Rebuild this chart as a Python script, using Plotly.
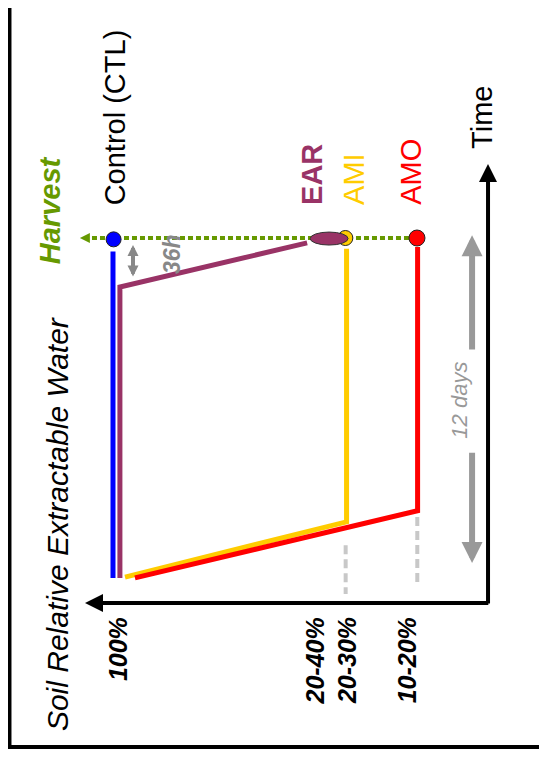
import plotly.graph_objects as go

# ---------------- data (time in days, SREW axis in schematic units: 0 = 100 %, 100 = AMO level) -------------
srew_tick_pos = [0.7, 66.1, 76.6, 96.8]
srew_tick_labels = ["100%", "20-40%", "20-30%", "10-20%"]

harvest_day = 12.0
harvest_x = [100.0, -10.0]

ctl_x = [-1.0, -1.0]
ctl_t = [-0.55, 11.5]
ctl_dot_x, ctl_dot_t = [-0.8], [11.95]

ear_x = [1.3, 1.3, 63.5]
ear_t = [-0.55, 10.19, 11.82]
ear_end_x, ear_end_t = 70.8, 11.98

ami_x = [3.0, 76.6, 76.6]
ami_t = [-0.52, 1.52, 11.6]
ami_dot_x, ami_dot_t = [76.2], [12.0]

amo_x = [6.3, 100.2, 100.2]
amo_t = [-0.55, 1.93, 11.67]
amo_dot_x, amo_dot_t = [100.0], [12.0]

ref_dash_x = [76.3, 100.1]
ref_dash_t0 = [0.66, 1.70]
ref_dash_t1 = [-1.14, -0.89]

series_names = ["Control (CTL)", "<b>EAR</b>", "AMI", "AMO"]
series_label_x = [-0.5, 65.3, 79.1, 98.0]
label_base_t = 13.15

h36_x, h36_t = 5.65, [10.52, 11.74]
d12_x, d12_t = 118.3, [0.0, 4.13, 7.83, 12.1]

axis_corner_x, axis_corner_t = 123.6, -1.48
srew_axis_tip_x = -10.3
time_axis_tip_t = 14.73

BLUE = "#0000ff"
PURPLE = "#993366"
YELLOW = "#ffcc00"
RED = "#ff0000"
GREEN = "#669900"
GRAY = "#999999"
FONT = "Liberation Sans, Arial, sans-serif"

fig = go.Figure()

# reference dashed lines
for x, t0, t1 in zip(ref_dash_x, ref_dash_t0, ref_dash_t1):
    fig.add_trace(go.Scatter(x=[x, x], y=[t0, t1], mode="lines",
                             line=dict(color="#c8c8c8", width=4, dash="9px,5px"),
                             hoverinfo="skip"))

# harvest dotted line
fig.add_trace(go.Scatter(x=harvest_x, y=[harvest_day, harvest_day], mode="lines",
                         line=dict(color=GREEN, width=4, dash="5px,3px"), hoverinfo="skip"))

# series lines
fig.add_trace(go.Scatter(x=ctl_x, y=ctl_t, mode="lines", line=dict(color=BLUE, width=5)))
fig.add_trace(go.Scatter(x=ear_x, y=ear_t, mode="lines", line=dict(color=PURPLE, width=5)))
fig.add_trace(go.Scatter(x=ami_x, y=ami_t, mode="lines", line=dict(color=YELLOW, width=5)))
fig.add_trace(go.Scatter(x=amo_x, y=amo_t, mode="lines", line=dict(color=RED, width=5)))

# harvest markers
for mx, mt, col, sz in [(ctl_dot_x, ctl_dot_t, BLUE, 15), (ami_dot_x, ami_dot_t, YELLOW, 15),
                        (amo_dot_x, amo_dot_t, RED, 16)]:
    fig.add_trace(go.Scatter(x=mx, y=mt, mode="markers",
                             marker=dict(color=col, size=sz, line=dict(color="#222222", width=1))))

# EAR elongated marker
fig.add_shape(type="circle", xref="x", yref="y",
              x0=ear_end_x - 6.3, x1=ear_end_x + 6.3,
              y0=ear_end_t - 0.24, y1=ear_end_t + 0.24,
              fillcolor=PURPLE, line=dict(color="#333333", width=1))

# frame (page body adds an 8 px offset)
fig.add_shape(type="rect", xref="paper", yref="paper", x0=0.0027, y0=0.0276, x1=1.05, y1=1.05,
              line=dict(color="black", width=4), fillcolor="rgba(0,0,0,0)")

def arrow(x_tip, t_tip, x_tail, t_tail, color, width, size=1.0, head=2, side="end"):
    fig.add_annotation(x=x_tip, y=t_tip, ax=x_tail, ay=t_tail, xref="x", yref="y",
                       axref="x", ayref="y", showarrow=True, text="",
                       arrowhead=head, arrowsize=size, arrowwidth=width,
                       arrowcolor=color, arrowside=side, standoff=0, startstandoff=0)

# axes arrows
arrow(srew_axis_tip_x, axis_corner_t, axis_corner_x + 0.6, axis_corner_t, "black", 4, 0.9)
arrow(axis_corner_x, time_axis_tip_t, axis_corner_x, axis_corner_t - 0.07, "black", 4, 0.9)
# harvest arrow head
arrow(-12.0, harvest_day, -9.0, harvest_day, GREEN, 2, 1.0, head=2)
# 36h double arrow
arrow(h36_x, h36_t[1], h36_x, h36_t[0], "#888888", 4, 0.55, side="end+start")
# 12 days arrows
arrow(d12_x, d12_t[3], d12_x, d12_t[2], GRAY, 6, 0.7)
arrow(d12_x, d12_t[0], d12_x, d12_t[1], GRAY, 6, 0.7)

# texts
def vtext(x, t, txt, color, size, yanchor="bottom", xanchor="center"):
    fig.add_annotation(x=x, y=t, xref="x", yref="y", text=txt, showarrow=False,
                       textangle=-90, xanchor=xanchor, yanchor=yanchor,
                       font=dict(family=FONT, size=size, color=color))

label_colors = ["black", PURPLE, YELLOW, RED]
for name, lx, col in zip(series_names, series_label_x, label_colors):
    vtext(lx, label_base_t, name, col, 29)

vtext(-21.9, 13.03, "<b><i>Harvest</i></b>", GREEN, 29, yanchor="middle")
vtext(121.8, 15.22, "Time", "black", 29)
vtext(-19.6, -6.28, "<i>Soil Relative Extractable Water</i>", "black", 30)
vtext(18.6, 11.41, "<b><i>36h</i></b>", "#888888", 23, yanchor="middle")
vtext(114.0, 6.0, "<i>12 days</i>", "#999999", 22, yanchor="middle")

for px, lab in zip(srew_tick_pos, srew_tick_labels):
    vtext(px, -1.92, "<b><i>" + lab + "</i></b>", "black", 25, yanchor="top")

fig.update_layout(
    width=547, height=760, margin=dict(l=0, r=0, t=0, b=0),
    paper_bgcolor="white", plot_bgcolor="white", showlegend=False,
    xaxis=dict(range=[-35.88, 145.85], visible=False, fixedrange=True),
    yaxis=dict(range=[-7.569, 20.493], visible=False, fixedrange=True),
)

fig.write_html("out.html")
